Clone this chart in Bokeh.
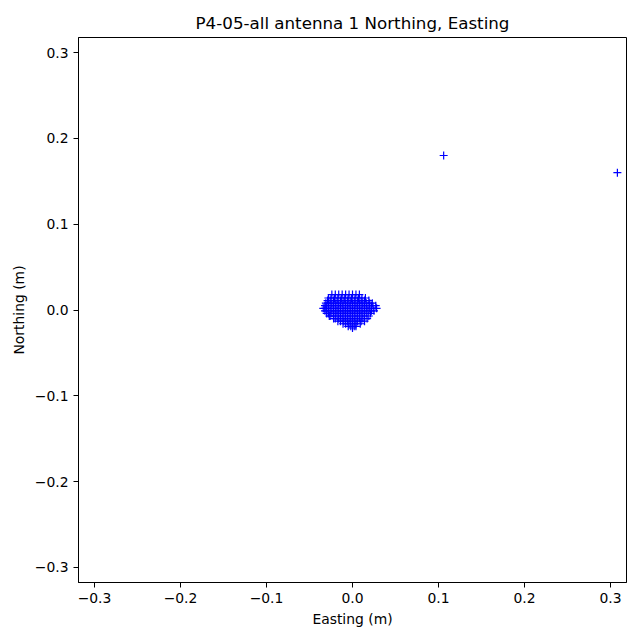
from bokeh.plotting import figure
from bokeh.models import Range1d, FixedTicker, ColumnDataSource
from bokeh.embed import file_html
from bokeh.resources import INLINE

# Cluster rows: northing value and the easting values measured along that row
row_north = [0.018, 0.014, 0.011, 0.008, 0.005, 0.002, -0.001, -0.004, -0.007, -0.010, -0.013, -0.016, -0.019, -0.021]
row_east = [
    [-0.024, -0.020, -0.016, -0.012, -0.008, -0.004, 0.000, 0.004, 0.008],
    [-0.028, -0.025, -0.021, -0.017, -0.013, -0.009, -0.005, -0.001, 0.003, 0.007, 0.011, 0.015],
    [-0.029, -0.026, -0.022, -0.018, -0.014, -0.010, -0.006, -0.002, 0.002, 0.006, 0.010, 0.014, 0.019],
    [-0.031, -0.028, -0.024, -0.020, -0.016, -0.012, -0.008, -0.004, 0.000, 0.004, 0.008, 0.012, 0.016, 0.020, 0.023],
    [-0.032, -0.030, -0.026, -0.022, -0.018, -0.014, -0.010, -0.006, -0.002, 0.002, 0.006, 0.010, 0.014, 0.018, 0.022, 0.027],
    [-0.034, -0.032, -0.028, -0.024, -0.020, -0.016, -0.012, -0.008, -0.004, 0.000, 0.004, 0.008, 0.012, 0.016, 0.020, 0.024, 0.028],
    [-0.032, -0.030, -0.026, -0.022, -0.018, -0.014, -0.010, -0.006, -0.002, 0.002, 0.006, 0.010, 0.014, 0.018, 0.022, 0.025],
    [-0.030, -0.028, -0.024, -0.020, -0.016, -0.012, -0.008, -0.004, 0.000, 0.004, 0.008, 0.012, 0.016, 0.021],
    [-0.027, -0.026, -0.022, -0.018, -0.014, -0.010, -0.006, -0.002, 0.002, 0.006, 0.010, 0.014, 0.019],
    [-0.022, -0.020, -0.016, -0.012, -0.008, -0.004, 0.000, 0.004, 0.008, 0.012, 0.017],
    [-0.017, -0.014, -0.010, -0.006, -0.002, 0.002, 0.006, 0.010, 0.014],
    [-0.011, -0.008, -0.004, 0.000, 0.004, 0.009],
    [-0.005, -0.002, 0.002, 0.004],
    [0.000],
]
# Outlying fixes
outlier_east = [0.106, 0.308]
outlier_north = [0.180, 0.160]

tick_values = [-0.3, -0.2, -0.1, 0.0, 0.1, 0.2, 0.3]
tick_labels = ["\u22120.3", "\u22120.2", "\u22120.1", "0.0", "0.1", "0.2", "0.3"]

east = []
north = []
for n, row in zip(row_north, row_east):
    for e in row:
        east.append(e)
        north.append(n)
east += outlier_east
north += outlier_north

src = ColumnDataSource(data=dict(east=east, north=north))

p = figure(width=632, height=632, output_backend="svg", toolbar_location=None,
           x_range=Range1d(-0.3186, 0.3186), y_range=Range1d(-0.3175, 0.3175),
           title="P4-05-all antenna 1 Northing, Easting",
           min_border_left=78, min_border_right=6, min_border_top=37, min_border_bottom=50)

p.scatter("east", "north", source=src, marker="cross", size=8,
          line_color="#0000ff", line_width=1.2)

p.title.align = "center"
p.title.text_font = "DejaVu Sans"
p.title.text_font_size = "16.7px"
p.title.text_font_style = "normal"
p.title.text_color = "black"

p.xgrid.visible = False
p.ygrid.visible = False
p.outline_line_color = "black"
p.outline_line_alpha = 1
p.outline_line_width = 1

label_map = {v: l for v, l in zip(tick_values, tick_labels)}
for ax, lab in ((p.xaxis[0], "Easting (m)"), (p.yaxis[0], "Northing (m)")):
    ax.ticker = FixedTicker(ticks=tick_values)
    ax.major_label_overrides = label_map
    ax.axis_label = lab
    ax.axis_label_text_font = "DejaVu Sans"
    ax.axis_label_text_font_size = "13.9px"
    ax.axis_label_text_font_style = "normal"
    ax.axis_label_text_color = "black"
    ax.major_label_text_font = "DejaVu Sans"
    ax.major_label_text_font_size = "13.9px"
    ax.major_label_text_color = "black"
    ax.minor_tick_line_color = None
    ax.major_tick_in = 0
    ax.major_tick_out = 5
    ax.major_tick_line_color = "black"
    ax.axis_line_color = "black"

p.yaxis[0].major_label_orientation = "horizontal"

open("out.html", "w").write(file_html(p, INLINE))
